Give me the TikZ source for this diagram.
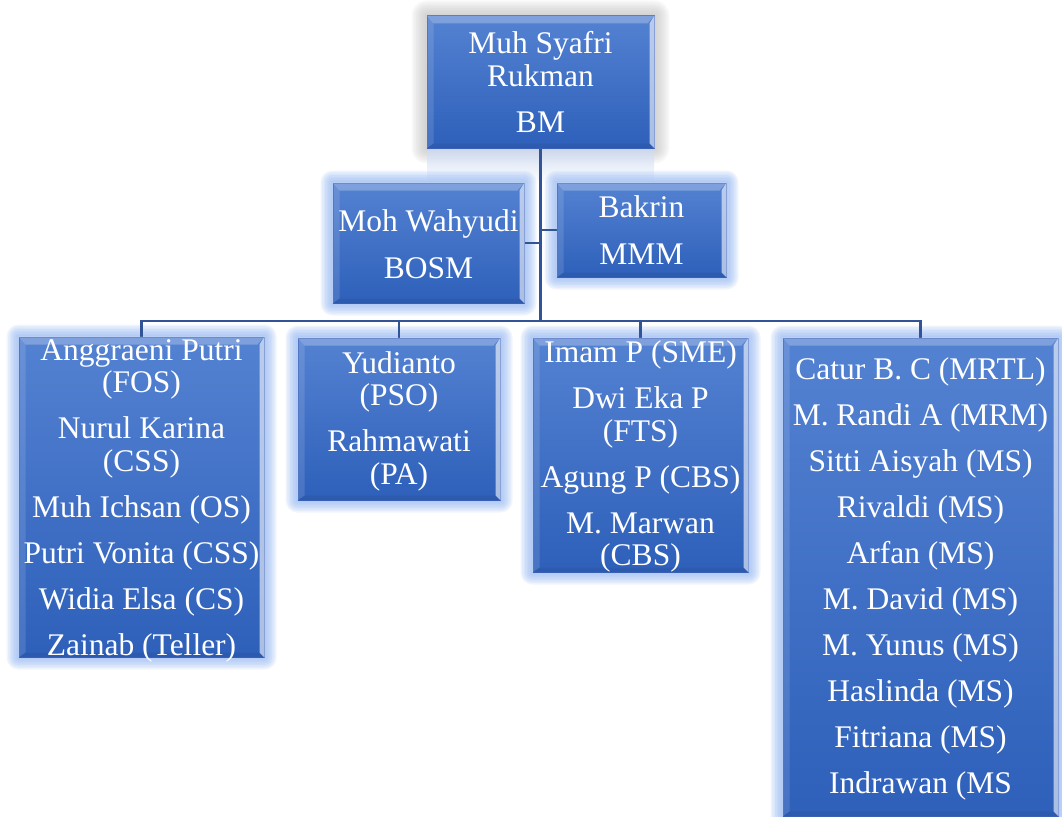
\documentclass[tikz,border=0pt]{standalone}
\usepackage{fontspec}
\setmainfont{Liberation Serif}
\usetikzlibrary{backgrounds,calc}
\definecolor{boxtop}{RGB}{84,130,210}
\definecolor{boxbot}{RGB}{46,96,186}
\definecolor{boxedge}{RGB}{60,100,188}
\definecolor{conn}{RGB}{50,84,150}
\definecolor{glowc}{RGB}{145,182,245}
\definecolor{shadc}{RGB}{185,185,185}
\tikzset{
  orgbox/.style={rectangle, inner sep=0pt, top color=boxtop, bottom color=boxbot, draw=boxedge, line width=1pt},
  orgtext/.style={inner sep=0pt, text=white, align=center, font=\fontsize{31.5}{32.5}\selectfont},
  link/.style={draw=conn, line width=2.3pt},
  reflbox/.style={rectangle, inner sep=0pt, draw=none, top color=boxtop!30, bottom color=white, opacity=0.8},
}
\newcommand\bevel[1]{%
  \fill[white,opacity=0.25] (#1.north west) -- (#1.north east) -- ([shift={(-7,8)}]#1.north east) -- ([shift={(7,8)}]#1.north west) -- cycle;
  \fill[white,opacity=0.6] (#1.north east) -- (#1.south east) -- ([shift={(-5,-5)}]#1.south east) -- ([shift={(-5,8)}]#1.north east) -- cycle;
  \fill[white,opacity=0.12] (#1.north west) -- (#1.south west) -- ([shift={(7,-5)}]#1.south west) -- ([shift={(7,8)}]#1.north west) -- cycle;
  \fill[black,opacity=0.06] (#1.south west) -- (#1.south east) -- ([shift={(-5,-5)}]#1.south east) -- ([shift={(7,-5)}]#1.south west) -- cycle;
}
\newcommand\glow[4]{%
  \foreach \g in {1.5,3,...,#3} {%
    \fill[#2, opacity=#4, rounded corners=\g pt] ([shift={(-\g,-\g)}]#1.north west) rectangle ([shift={(\g,\g)}]#1.south east);
  }%
}
\begin{document}
\begin{tikzpicture}[x=1pt,y=-1pt]
\useasboundingbox (0,0) rectangle (1062,816);

% boxes
\node[orgbox, minimum width=227pt, minimum height=132pt] (top) at (540.5,82) {};
\node[orgbox, minimum width=191pt, minimum height=120pt] (bosm) at (428.5,243) {};
\node[orgbox, minimum width=169pt, minimum height=94pt] (mmm) at (641.5,230) {};
\node[orgbox, minimum width=245pt, minimum height=320pt] (fos) at (141.5,497) {};
\node[orgbox, minimum width=202pt, minimum height=162pt] (pso) at (399,419) {};
\node[orgbox, minimum width=215pt, minimum height=234pt] (sme) at (640.5,455) {};
\node[orgbox, minimum width=275pt, minimum height=478pt] (mrtl) at (920.5,577) {};

\bevel{top}\bevel{bosm}\bevel{mmm}\bevel{fos}\bevel{pso}\bevel{sme}\bevel{mrtl}

% texts
\node[orgtext] (topT) at (top.center) {Muh Syafri\\Rukman\\[13.5pt]BM};
\node[orgtext] (bosmT) at ([yshift=-1pt]bosm.center) {Moh Wahyudi\\[14pt]BOSM};
\node[orgtext] (mmmT) at (mmm.center) {Bakrin\\[14pt]MMM};
\node[orgtext] (fosT) at ([yshift=-3.5pt]fos.center) {Anggraeni Putri\\(FOS)\\[13.5pt]Nurul Karina\\(CSS)\\[13.5pt]Muh Ichsan (OS)\\[13.5pt]Putri Vonita (CSS)\\[13.5pt]Widia Elsa (CS)\\[13.5pt]Zainab (Teller)};
\node[orgtext] (psoT) at ([yshift=-2pt]pso.center) {Yudianto\\(PSO)\\[13.5pt]Rahmawati\\(PA)};
\node[orgtext] (smeT) at ([yshift=-1.5pt]sme.center) {Imam P (SME)\\[13.5pt]Dwi Eka P\\(FTS)\\[13.5pt]Agung P (CBS)\\[13.5pt]M. Marwan\\(CBS)};
\node[orgtext] (mrtlT) at ([yshift=-2pt]mrtl.center) {Catur B. C (MRTL)\\[13.5pt]M. Randi A (MRM)\\[13.5pt]Sitti Aisyah (MS)\\[13.5pt]Rivaldi (MS)\\[13.5pt]Arfan (MS)\\[13.5pt]M. David (MS)\\[13.5pt]M. Yunus (MS)\\[13.5pt]Haslinda (MS)\\[13.5pt]Fitriana (MS)\\[13.5pt]Indrawan (MS};

\coordinate (bus) at (540.5,321);

\begin{scope}[on background layer]
  \fill[white] (0,0) rectangle (1062,816);
  \glow{top}{shadc}{15}{0.08}
  \node[reflbox, minimum width=227pt, minimum height=34pt] (topref) at (540.5,167) {};
  \glow{bosm}{glowc}{12}{0.13}\glow{mmm}{glowc}{12}{0.13}\glow{fos}{glowc}{12}{0.13}\glow{pso}{glowc}{12}{0.13}\glow{sme}{glowc}{12}{0.13}\glow{mrtl}{glowc}{12}{0.13}
  \draw[link] (top.south) -- (bus);
  \draw[link] (bosm.east) -- (bosm.east -| top.south);
  \draw[link] (mmm.west) -- (mmm.west -| top.south);
  \draw[link] (fos.north) -- (fos.north |- bus) -- (mrtl.north |- bus) -- (mrtl.north);
  \draw[link] (pso.north) -- (pso.north |- bus);
  \draw[link] (sme.north) -- (sme.north |- bus);
\end{scope}
\end{tikzpicture}
\end{document}
